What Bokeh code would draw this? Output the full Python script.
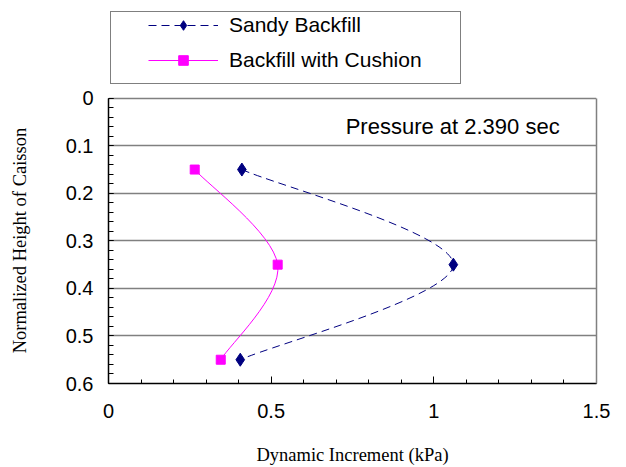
import numpy as np
from bokeh.plotting import figure
from bokeh.models import (Range1d, FixedTicker, Legend, LegendItem, Label,
                          ColumnDataSource, LinearAxis)
from bokeh.embed import file_html
from bokeh.resources import INLINE

# ---- data ----
heights = [0.15, 0.35, 0.55]
sandy = [0.41, 1.06, 0.405]
cushion = [0.265, 0.52, 0.345]
x_ticks = [0, 0.5, 1, 1.5]
y_ticks = [0, 0.1, 0.2, 0.3, 0.4, 0.5, 0.6]
series_names = ["Sandy Backfill", "Backfill with Cushion"]
note = "Pressure at 2.390 sec"
x_title = "Dynamic Increment (kPa)"
y_title = "Normalized Height of Caisson"

SANS = "Liberation Sans"
SERIF = "Liberation Serif"
NAVY = "#000080"
MAG = "#FF00FF"
GRAY = "#808080"


def smooth_segments(xs, ys):
    """Excel-like smoothed line: cubic Bezier segments (Catmull-Rom control points)."""
    P = np.column_stack([xs, ys]).astype(float)
    n = len(P)
    segs = dict(x0=[], y0=[], x1=[], y1=[], cx0=[], cy0=[], cx1=[], cy1=[])
    for i in range(n - 1):
        p0, p1 = P[i], P[i + 1]
        pm = P[i - 1] if i > 0 else p0
        pn = P[i + 2] if i + 2 < n else p1
        c0 = p0 + (p1 - pm) / 6.0
        c1 = p1 - (pn - p0) / 6.0
        segs["x0"].append(p0[0]); segs["y0"].append(p0[1])
        segs["x1"].append(p1[0]); segs["y1"].append(p1[1])
        segs["cx0"].append(c0[0]); segs["cy0"].append(c0[1])
        segs["cx1"].append(c1[0]); segs["cy1"].append(c1[1])
    return ColumnDataSource(segs)


# frame extends up to the top of the canvas so the legend can sit inside it;
# the axes are bounded to the 0..0.6 plotting area
y_top = -0.2056
p = figure(width=626, height=467, output_backend="svg", toolbar_location=None,
           x_range=Range1d(0, 1.5), y_range=Range1d(0.6, y_top),
           min_border_left=108, min_border_right=30, min_border_top=0,
           min_border_bottom=83)
p.background_fill_color = "white"
p.border_fill_color = "white"
p.outline_line_color = None

# grid
p.xgrid.visible = False
p.ygrid.grid_line_color = GRAY
p.ygrid.grid_line_width = 1.5
p.ygrid.ticker = FixedTicker(ticks=y_ticks)

# x axis
xa = p.xaxis[0]
xa.ticker = FixedTicker(ticks=x_ticks, minor_ticks=list(np.round(np.arange(0, 1.51, 0.1), 2)))
xa.axis_line_color = "black"
xa.axis_line_width = 1.5
xa.major_tick_in = 7
xa.major_tick_out = 0
xa.minor_tick_in = 4
xa.minor_tick_out = 0
xa.major_tick_line_color = "black"
xa.minor_tick_line_color = "black"
xa.major_label_text_font = SANS
xa.major_label_text_font_size = "20px"
xa.major_label_text_color = "black"
xa.major_label_standoff = 20
xa.axis_label = x_title
xa.axis_label_text_font = SERIF
xa.axis_label_text_font_size = "18.5px"
xa.axis_label_text_font_style = "normal"
xa.axis_label_text_color = "black"
xa.axis_label_standoff = 24

# y axis
ya = p.yaxis[0]
ya.bounds = (0, 0.6)
ya.ticker = FixedTicker(ticks=y_ticks, minor_ticks=list(np.round(np.arange(0, 0.601, 0.02), 2)))
ya.axis_line_color = "black"
ya.axis_line_width = 1.5
ya.major_tick_in = 5
ya.major_tick_out = 0
ya.minor_tick_in = 5
ya.minor_tick_out = 0
ya.major_tick_line_color = "black"
ya.minor_tick_line_color = "black"
ya.major_label_text_font = SANS
ya.major_label_text_font_size = "20px"
ya.major_label_text_color = "black"
ya.major_label_standoff = 15
# the label is centred on the whole (extended) frame; trailing no-break spaces
# move the visible text down to the centre of the 0..0.6 plotting area
ya.axis_label = y_title + "\u00a0" * 21
ya.axis_label_text_font = SERIF
ya.axis_label_text_font_size = "18.5px"
ya.axis_label_text_font_style = "normal"
ya.axis_label_text_color = "black"
ya.axis_label_standoff = 33

# right border of the plotting area
ra = LinearAxis(bounds=(0, 0.6), ticker=FixedTicker(ticks=[]),
                axis_line_color=GRAY, axis_line_width=1.5,
                major_tick_in=0, major_tick_out=0, minor_tick_in=0,
                minor_tick_out=0, major_label_text_color=None)
p.add_layout(ra, "right")

# series
b1 = p.bezier(x0="x0", y0="y0", x1="x1", y1="y1", cx0="cx0", cy0="cy0",
              cx1="cx1", cy1="cy1", source=smooth_segments(sandy, heights),
              line_color=NAVY, line_width=1, line_dash="8 5")
s1 = p.scatter(sandy, heights, marker="diamond", size=13,
               fill_color=NAVY, line_color=NAVY)
b2 = p.bezier(x0="x0", y0="y0", x1="x1", y1="y1", cx0="cx0", cy0="cy0",
              cx1="cx1", cy1="cy1", source=smooth_segments(cushion, heights),
              line_color=MAG, line_width=1)
s2 = p.scatter(cushion, heights, marker="square", size=9,
               fill_color=MAG, line_color=MAG)

# annotation text
p.add_layout(Label(x=0.729, y=0.059, text=note, text_font=SANS,
                   text_font_size="22px", text_color="black",
                   text_baseline="middle", text_align="left"))

# legend frame (border only)
dummy = p.scatter([], [], fill_alpha=0, line_alpha=0)
frame_legend = Legend(items=[LegendItem(label=" ", renderers=[dummy])],
                      location=(2, 299))
frame_legend.border_line_color = "black"
frame_legend.border_line_width = 1.2
frame_legend.background_fill_alpha = 0
frame_legend.padding = 0
frame_legend.margin = 0
frame_legend.glyph_width = 349
frame_legend.glyph_height = 71
frame_legend.label_height = 71
frame_legend.label_width = 0
frame_legend.label_standoff = 0
frame_legend.label_text_font_size = "1px"
p.add_layout(frame_legend, "center")

# legend entries
legend = Legend(items=[LegendItem(label=series_names[0], renderers=[b1, s1]),
                       LegendItem(label=series_names[1], renderers=[b2, s2])],
                location=(40, 311), orientation="vertical")
legend.border_line_alpha = 0
legend.background_fill_alpha = 0
legend.padding = 0
legend.margin = 0
legend.spacing = 11
legend.glyph_width = 70
legend.glyph_height = 24
legend.label_height = 24
legend.label_standoff = 11
legend.label_text_font = SANS
legend.label_text_font_size = "21px"
legend.label_text_color = "black"
legend.label_text_baseline = "middle"
p.add_layout(legend, "center")

open("out.html", "w").write(file_html(p, INLINE))
